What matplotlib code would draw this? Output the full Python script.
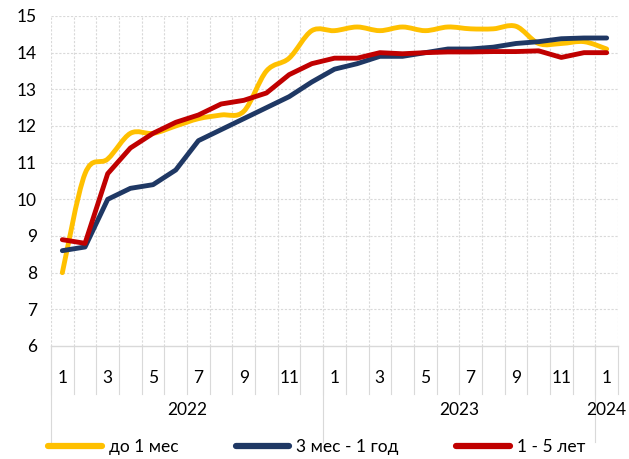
import matplotlib
matplotlib.use('Agg')
import matplotlib.pyplot as plt
from matplotlib.path import Path
from matplotlib.patches import PathPatch
from matplotlib.lines import Line2D

# monthly points, Jan 2022 .. Jan 2024
months = [1, 2, 3, 4, 5, 6, 7, 8, 9, 10, 11, 12,
          1, 2, 3, 4, 5, 6, 7, 8, 9, 10, 11, 12, 1]
years = ['2022', '2023', '2024']
year_counts = [12, 12, 1]

short = [8.0, 10.7, 11.1, 11.8, 11.8, 12.0, 12.2, 12.3, 12.4, 13.5, 13.85, 14.6,
         14.6, 14.7, 14.6, 14.7, 14.6, 14.7, 14.65, 14.65, 14.72, 14.25, 14.25, 14.3, 14.1]
mid = [8.6, 8.7, 10.0, 10.3, 10.4, 10.8, 11.6, 11.9, 12.2, 12.5, 12.8, 13.2,
       13.55, 13.7, 13.9, 13.9, 14.0, 14.1, 14.1, 14.15, 14.25, 14.3, 14.38, 14.4, 14.4]
long_ = [8.9, 8.8, 10.7, 11.4, 11.8, 12.1, 12.3, 12.6, 12.7, 12.9, 13.4, 13.7,
         13.85, 13.85, 14.0, 13.97, 14.0, 14.02, 14.02, 14.03, 14.03, 14.05, 13.87, 14.0, 14.0]
labels = ['до 1 мес', '3 мес - 1 год', '1 - 5 лет']
colors = ['#FFC000', '#1F3864', '#C00000']

plt.rcParams['font.family'] = ['Lato', 'DejaVu Sans']

fig = plt.figure(figsize=(6.29, 4.59), dpi=100)
ax = fig.add_axes([51/629, 1-346/459, 567/629, 330/459])

n = len(months)
x = list(range(n))

# grid
for k in range(n + 1):
    ax.axvline(k - 0.5, color='#d9d9d9', lw=0.8, ls=(0, (2, 1.5)), zorder=0)
for v in range(7, 16):
    ax.axhline(v, color='#d9d9d9', lw=0.8, ls=(0, (2, 1.5)), zorder=0)

# smoothed yellow line (bezier through the points)
def smooth_path(xs, ys):
    verts = [(xs[0], ys[0])]
    codes = [Path.MOVETO]
    m = len(xs)
    for i in range(m - 1):
        x0, y0 = (xs[i-1], ys[i-1]) if i > 0 else (xs[i], ys[i])
        x1, y1 = xs[i], ys[i]
        x2, y2 = xs[i+1], ys[i+1]
        x3, y3 = (xs[i+2], ys[i+2]) if i + 2 < m else (xs[i+1], ys[i+1])
        verts += [(x1 + (x2 - x0) / 6, y1 + (y2 - y0) / 6),
                  (x2 - (x3 - x1) / 6, y2 - (y3 - y1) / 6),
                  (x2, y2)]
        codes += [Path.CURVE4] * 3
    return Path(verts, codes)

ax.add_patch(PathPatch(smooth_path(x, short), fill=False, edgecolor=colors[0],
                       lw=3.5, capstyle='round', joinstyle='round', zorder=3))
ax.plot(x, mid, color=colors[1], lw=3.5, solid_capstyle='round', solid_joinstyle='round', zorder=3)
ax.plot(x, long_, color=colors[2], lw=3.5, solid_capstyle='round', solid_joinstyle='round', zorder=4)

ax.set_xlim(-0.5, n - 0.5)
ax.set_ylim(6, 15)
ax.set_yticks(range(6, 16))
ax.tick_params(axis='y', length=0, pad=10, labelsize=12.5)
for s in ax.spines.values():
    s.set_visible(False)
ax.axhline(6, color='#d9d9d9', lw=1, zorder=1, clip_on=False)

# category axis with two levels
ax.set_xticks([])
tr = ax.get_xaxis_transform()
for k in range(n + 1):
    ax.plot([k - 0.5, k - 0.5], [0, -0.145], color='#d9d9d9', lw=0.8,
            transform=tr, clip_on=False)
for i, m in enumerate(months):
    if m % 2 == 1:
        ax.text(i, -0.097, str(m), transform=tr, ha='center', va='center', fontsize=12.5)
start = 0
for yr, cnt in zip(years, year_counts):
    ax.plot([start - 0.5, start - 0.5], [0, -0.29], color='#d9d9d9', lw=0.8,
            transform=tr, clip_on=False)
    ax.text(start + (cnt - 1) / 2, -0.194, yr, transform=tr, ha='center', va='center',
            fontsize=12.5)
    start += cnt

handles = [Line2D([], [], color=c, lw=4.5, solid_capstyle='round') for c in colors]
fig.legend(handles, labels, loc='center left', bbox_to_anchor=(48/629, 1-447/459),
           ncol=3, frameon=False, fontsize=12.5, handlelength=3.1, handletextpad=0.4,
           columnspacing=3.3, borderpad=0, borderaxespad=0)

fig.savefig('out.png', dpi=100)
